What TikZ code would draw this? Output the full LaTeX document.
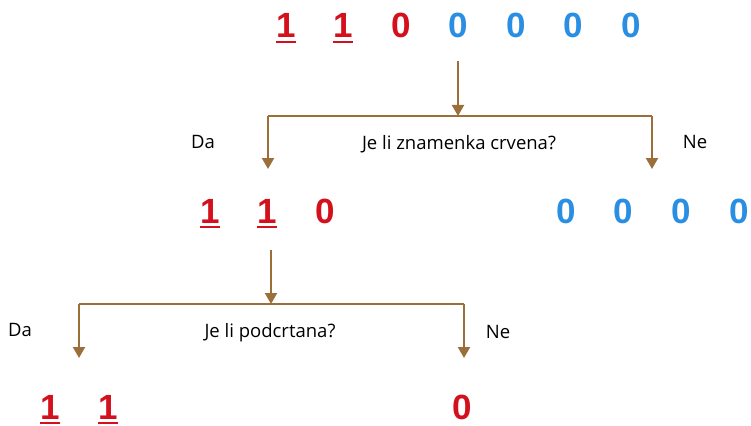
\documentclass[tikz,border=0pt]{standalone}
\usepackage{fontspec}
\setmainfont{Open Sans}
\newfontfamily\znamfont{Liberation Sans}
\usetikzlibrary{arrows.meta}
\definecolor{crvena}{HTML}{D4101C}
\definecolor{plava}{HTML}{2A8FE2}
\definecolor{smeda}{HTML}{9C6F3A}
\tikzset{
  znamenka/.style={font=\znamfont\bfseries\fontsize{35}{35}\selectfont,
    inner sep=0pt, anchor=base},
  crveno/.style={znamenka, text=crvena},
  plavo/.style={znamenka, text=plava},
  crta/.style={draw=crvena, line width=1.8pt},
  grana/.style={draw=smeda, line width=2pt},
  strelica/.style={grana, -{Triangle[width=12pt,length=11pt]}},
  oznaka/.style={font=\fontsize{18.5}{18.5}\selectfont, inner sep=0pt}
}
\begin{document}
\begin{tikzpicture}[x=1pt,y=-1pt]
\useasboundingbox (0,0) rectangle (751,425);
% Top row of digits
\node[crveno] (t1) at (286,38) {1};
\node[crveno] (t2) at (343,38) {1};
\node[crveno] (t3) at (401,38) {0};
\foreach \i/\x in {4/458,5/516,6/573,7/631}
  \node[plavo] (t\i) at (\x,38) {0};
% First question
\coordinate (vrh1) at (458,61);
\coordinate (racva1) at (458,116);
\coordinate (lijevo1) at (268,116);
\coordinate (desno1) at (652,116);
\draw[strelica] (vrh1) -- (racva1);
\draw[grana] (lijevo1) -- (desno1);
\draw[strelica] (lijevo1) -- ++(0,53) coordinate (da1);
\draw[strelica] (desno1) -- ++(0,53) coordinate (ne1);
\node[oznaka] (da1txt) at (203,142) {Da};
\node[oznaka] (pitanje1) at (459,144) {Je li znamenka crvena?};
\node[oznaka] (ne1txt) at (695,142) {Ne};
% Second row: red ones and blue ones
\node[crveno] (d1) at (210,223) {1};
\node[crveno] (d2) at (267,223) {1};
\node[crveno] (d3) at (325,223) {0};
\foreach \i/\x in {1/566,2/623,3/681,4/739}
  \node[plavo] (p\i) at (\x,223) {0};
% Second question
\coordinate (vrh2) at (271,250);
\coordinate (racva2) at (271,304);
\coordinate (lijevo2) at (79,304);
\coordinate (desno2) at (464,304);
\draw[strelica] (vrh2) -- (racva2);
\draw[grana] (lijevo2) -- (desno2);
\draw[strelica] (lijevo2) -- ++(0,54) coordinate (da2);
\draw[strelica] (desno2) -- ++(0,54) coordinate (ne2);
\node[oznaka] (da2txt) at (20,330) {Da};
\node[oznaka] (pitanje2) at (270,333) {Je li podcrtana?};
\node[oznaka] (ne2txt) at (498,332) {Ne};
% Bottom row
\node[crveno] (c1) at (50,419) {1};
\node[crveno] (c2) at (108,419) {1};
\node[crveno] (c3) at (462,419) {0};
% Underlines
\foreach \n in {t1,t2,d1,d2,c1,c2}
  \draw[crta] ([yshift=-4pt]\n.base west) -- ([yshift=-4pt]\n.base east);
\end{tikzpicture}
\end{document}
